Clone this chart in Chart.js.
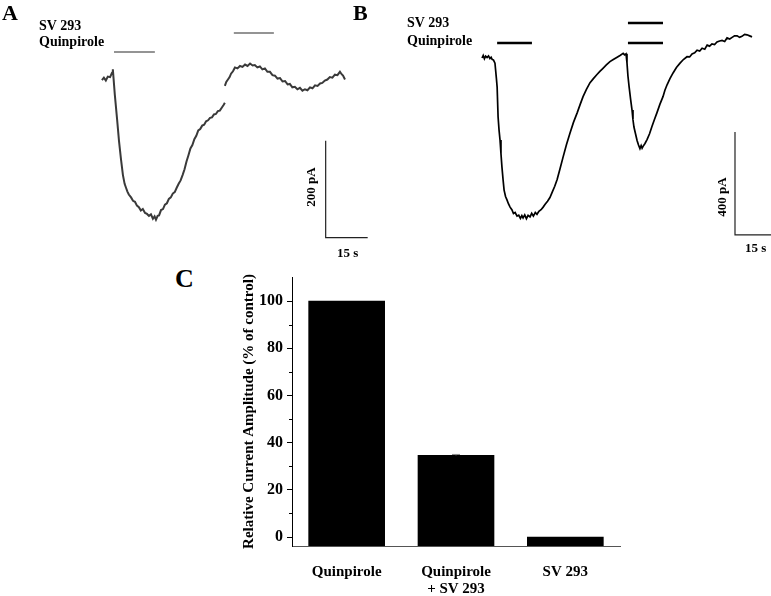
<!DOCTYPE html>
<html>
<head>
<meta charset="utf-8">
<script src="https://cdn.jsdelivr.net/npm/chart.js@4.4.1/dist/chart.umd.min.js"></script>
<style>
    body { margin: 0; background: #fff; }
    #figure { position: relative; width: 771px; height: 596px; overflow: hidden; }
    canvas { position: absolute; }
    .lbl { position: absolute; font-family: "Liberation Serif", "Times New Roman", serif; font-weight: bold; line-height: 1; white-space: nowrap; color: #000; }
    .rot { transform: translate(-50%, -50%) rotate(-90deg); }
</style>
</head>
<body>
<div id="figure">
    <canvas id="traceA" width="380" height="260" style="left:0;top:0"></canvas>
    <canvas id="traceB" width="391" height="260" style="left:380px;top:0"></canvas>
    <canvas id="barsC" width="535" height="336" style="left:236px;top:260px"></canvas>

    <div class="lbl" style="left:2px;top:2px;font-size:22px">A</div>
    <div class="lbl" style="left:353px;top:2px;font-size:22px">B</div>
    <div class="lbl" style="left:175px;top:266px;font-size:26px">C</div>

    <div class="lbl" style="left:39px;top:19px;font-size:14px">SV 293</div>
    <div class="lbl" style="left:39px;top:35px;font-size:14px">Quinpirole</div>
    <div class="lbl" style="left:407px;top:16px;font-size:14px">SV 293</div>
    <div class="lbl" style="left:407px;top:34px;font-size:14px">Quinpirole</div>

    <div class="lbl rot" style="left:310px;top:187px;font-size:13px">200 pA</div>
    <div class="lbl" style="left:337px;top:246px;font-size:13px">15 s</div>
    <div class="lbl rot" style="left:721px;top:197px;font-size:13px">400 pA</div>
    <div class="lbl" style="left:745px;top:241px;font-size:13px">15 s</div>
</div>

<script>
// Panel A trace (s, pA); null marks the break in the recording
const timeA = [0, 0.7, 1.4, 2.1, 2.9, 3.6, 3.9, 4.6, 5.4, 6.1, 6.8, 7.5, 8.1, 8.6, 9.1, 9.6, 10.4, 11.1, 11.8, 12.5,
    13.2, 13.9, 14.6, 15.4, 16.1, 16.8, 17.5, 18.2, 18.8, 19.3, 19.9, 20.4, 21.1, 21.8, 22.5, 23.2, 23.9, 24.6, 25.3, 26.0,
    26.7, 27.4, 28.1, 28.8, 29.5, 30.2, 30.9, 31.6, 32.3, 33.0, 33.7, 34.4, 35.1, 35.8, 36.5, 37.2, 37.9, 38.6, 39.3, 40.0,
    40.7, 41.4, 42.1, 42.9, 43.5, 43.9, 43.9, 43.9, 44.4, 45.0, 45.6, 46.1, 46.8, 47.5, 48.4, 49.3, 50.2, 51.1, 52.0, 52.9,
    53.8, 54.6, 55.5, 56.4, 57.3, 58.2, 59.1, 60.0, 60.9, 61.8, 62.7, 63.6, 64.5, 65.4, 66.3, 67.1, 68.0, 68.9, 69.8, 70.7,
    71.6, 72.5, 73.4, 74.3, 75.2, 76.1, 77.0, 77.9, 78.7, 79.6, 80.5, 81.4, 82.3, 83.2, 84.1, 85.0, 85.6, 86.1, 86.8];
const currentA = [0, 5, -1, 7, 6, 15, 22, -30, -80, -126, -163, -196, -214, -222, -230, -236, -242, -249, -251, -259,
    -262, -269, -266, -274, -276, -280, -277, -286, -281, -288, -280, -279, -268, -266, -257, -254, -245, -242, -234, -231,
    -222, -214, -207, -196, -184, -168, -155, -141, -134, -122, -115, -104, -101, -94, -92, -85, -83, -78, -77, -71,
    -70, -64, -63, -56, -51, -47, null, -12, -4, 1, 6, 13, 18, 26, 24, 29, 27, 32, 29, 34,
    30, 31, 26, 28, 22, 24, 17, 17, 10, 9, 3, 4, -3, -2, -9, -8, -15, -14, -19, -16,
    -22, -19, -21, -15, -17, -11, -12, -7, -6, -1, 1, 6, 5, 11, 10, 17, 12, 9, 1];

// Panel B trace (s, pA)
const timeB = [0, 0.5, 1.0, 1.5, 2.1, 2.7, 3.3, 3.8, 4.2, 4.8, 5.4, 6.0, 6.3, 6.7, 7.1, 7.5, 7.9, 8.3, 8.8, 9.2,
    9.8, 10.4, 11.0, 11.7, 12.5, 13.1, 13.8, 14.6, 15.3, 16.0, 16.6, 17.1, 17.8, 18.5, 19.2, 20.0, 20.7, 21.4, 22.2, 22.9,
    23.7, 24.6, 25.4, 26.3, 27.3, 28.3, 29.3, 30.3, 31.3, 32.5, 33.8, 35.2, 36.7, 38.1, 39.6, 40.9, 42.1, 43.5, 45.0, 46.4,
    47.9, 49.1, 50.4, 51.8, 53.3, 54.7, 56.3, 57.5, 58.8, 59.4, 60.0, 60.4, 60.8, 61.3, 61.9, 62.5, 62.9, 63.3, 64.0, 64.6,
    65.2, 65.8, 66.3, 66.7, 67.1, 67.9, 68.8, 69.8, 70.8, 71.8, 72.9, 74.1, 75.4, 76.2, 77.1, 78.3, 79.6, 81.0, 82.5, 83.9,
    85.4, 86.5, 87.5, 88.6, 89.6, 90.7, 91.7, 92.8, 93.8, 94.8, 95.8, 96.9, 97.9, 99.0, 100.0, 101.1, 102.1, 103.2, 104.2, 105.2,
    106.3, 107.3, 108.3, 109.4, 110.4, 111.5, 112.5];
const currentB = [0, 10, -3, 7, 2, 8, -2, 3, -5, -8, -20, -80, -113, -229, -280, -318, -372, -423, -475, -513,
    -538, -551, -566, -579, -590, -604, -600, -614, -610, -623, -612, -621, -609, -624, -611, -617, -603, -614, -600, -607,
    -595, -589, -580, -568, -556, -542, -520, -498, -472, -430, -384, -336, -290, -250, -214, -180, -150, -122, -96, -80,
    -64, -52, -40, -27, -14, -6, 3, 10, 18, 12, 16, -19, -70, -113, -160, -202, -240, -268, -296, -320,
    -338, -352, -340, -350, -343, -332, -316, -294, -266, -240, -212, -180, -150, -125, -104, -80, -58, -37, -20, -6,
    5, 4, 16, 20, 30, 27, 38, 34, 50, 46, 55, 52, 62, 66, 68, 64, 78, 74, 80, 86,
    86, 80, 84, 92, 90, 86, 82];

// drug application bars [start s, end s, level pA]
const drugBarsA = [[4.3, 18.9, 58], [47.1, 61.4, 97]];
const drugBarsB = [[6.3, 20.8, 58], [60.8, 75.4, 58], [60.8, 75.4, 136]];

// calibration bars: corner position, 15 s and 200 / 400 pA
const calA = { t: 79.9, i: -325, dt: 15, di: 200 };
const calB = { t: 105.4, i: -687, dt: 15, di: 400 };

// Panel C
const groups = [['Quinpirole'], ['Quinpirole', '+ SV 293'], ['SV 293']];
const groupPos = [1, 2, 3];
const amplitudes = [100, 34.6, 0];
const errors = [0, 0.4, 0];
const yTicks = [0, 20, 40, 60, 80, 100];
const yMinorTicks = [10, 30, 50, 70, 90];

const serif = '"Liberation Serif", "Times New Roman", serif';

function points(xs, ys) {
    return xs.map((x, i) => ({ x: x, y: ys[i] }));
}

function segment(x0, x1, y0, y1) {
    return [{ x: x0, y: y0 }, { x: x1, y: y1 }];
}

function traceChart(id, time, current, drugBars, cal, range, style) {
    const datasets = [{
        data: points(time, current),
        borderColor: style.trace,
        borderWidth: style.traceWidth,
        spanGaps: false
    }];
    drugBars.forEach(bar => {
        datasets.push({
            data: segment(bar[0], bar[1], bar[2], bar[2]),
            borderColor: style.drug,
            borderWidth: style.drugWidth
        });
    });
    // calibration: vertical then horizontal
    datasets.push({
        data: [{ x: cal.t, y: cal.i + cal.di }, { x: cal.t, y: cal.i }, { x: cal.t + cal.dt, y: cal.i }],
        borderColor: style.cal,
        borderWidth: 1.2
    });

    new Chart(document.getElementById(id), {
        type: 'line',
        data: { datasets: datasets },
        options: {
            responsive: false,
            animation: false,
            devicePixelRatio: 1,
            layout: { padding: 0 },
            elements: { point: { radius: 0 }, line: { tension: 0, fill: false } },
            plugins: { legend: { display: false }, tooltip: { enabled: false } },
            scales: {
                x: { type: 'linear', display: false, min: range.x[0], max: range.x[1] },
                y: { type: 'linear', display: false, min: range.y[0], max: range.y[1] }
            }
        }
    });
}

traceChart('traceA', timeA, currentA, drugBarsA, calA,
    { x: [-36.4, 99.3], y: [-371, 165] },
    { trace: '#3a3a3a', traceWidth: 2, drug: '#707070', drugWidth: 1.5, cal: '#222' });

traceChart('traceB', timeB, currentB, drugBarsB, calB,
    { x: [-42.5, 120.4], y: [-784.4, 225.2] },
    { trace: '#000', traceWidth: 1.7, drug: '#000', drugWidth: 2.5, cal: '#222' });

// minor ticks and error caps for panel C
const extrasPlugin = {
    id: 'extras',
    afterDatasetsDraw(chart) {
        const ctx = chart.ctx;
        const x = chart.scales.x;
        const y = chart.scales.y;
        ctx.save();
        ctx.strokeStyle = '#000';
        ctx.lineWidth = 1;
        yMinorTicks.forEach(v => {
            const py = Math.round(y.getPixelForValue(v)) + 0.5;
            ctx.beginPath();
            ctx.moveTo(chart.chartArea.left - 3, py);
            ctx.lineTo(chart.chartArea.left, py);
            ctx.stroke();
        });
        ctx.strokeStyle = '#888';
        errors.forEach((e, i) => {
            if (!e) return;
            const px = x.getPixelForValue(groupPos[i]);
            const top = y.getPixelForValue(amplitudes[i] + e);
            const bot = y.getPixelForValue(amplitudes[i]);
            ctx.beginPath();
            ctx.moveTo(px, bot);
            ctx.lineTo(px, top);
            ctx.moveTo(px - 4, top);
            ctx.lineTo(px + 4, top);
            ctx.stroke();
        });
        ctx.restore();
    }
};

new Chart(document.getElementById('barsC'), {
    type: 'bar',
    data: {
        datasets: [{
            data: points(groupPos, amplitudes),
            base: -3.8,
            backgroundColor: '#000',
            borderWidth: 0,
            barThickness: 76
        }]
    },
    options: {
        responsive: false,
        animation: false,
        devicePixelRatio: 1,
        layout: { padding: { left: 0, top: 17, right: 151, bottom: 0 } },
        plugins: { legend: { display: false }, tooltip: { enabled: false } },
        scales: {
            x: {
                type: 'linear',
                offset: false,
                min: 0.5,
                max: 3.5,
                afterBuildTicks: scale => { scale.ticks = groupPos.map(v => ({ value: v })); },
                afterFit: scale => { scale.height = 50; },
                grid: { display: false },
                border: { display: true, color: '#555', width: 1 },
                ticks: {
                    color: '#000',
                    padding: 10,
                    maxRotation: 0,
                    autoSkip: false,
                    font: { family: serif, size: 15, weight: 'bold', lineHeight: 1.1 },
                    callback: value => groups[groupPos.indexOf(value)]
                }
            },
            y: {
                type: 'linear',
                min: -3.8,
                max: 110.2,
                afterBuildTicks: scale => { scale.ticks = yTicks.map(v => ({ value: v })); },
                afterFit: scale => { scale.width = 56; },
                grid: { drawOnChartArea: false, drawTicks: true, tickLength: 5, tickColor: '#000', tickWidth: 1 },
                border: { display: true, color: '#000', width: 1 },
                ticks: {
                    color: '#000',
                    padding: 4,
                    font: { family: serif, size: 16, weight: 'bold' }
                },
                title: {
                    display: true,
                    text: 'Relative Current Amplitude (% of control)',
                    color: '#000',
                    padding: { top: 4, bottom: 4 },
                    font: { family: serif, size: 15, weight: 'bold' }
                }
            }
        }
    },
    plugins: [extrasPlugin]
});
</script>
</body>
</html>
